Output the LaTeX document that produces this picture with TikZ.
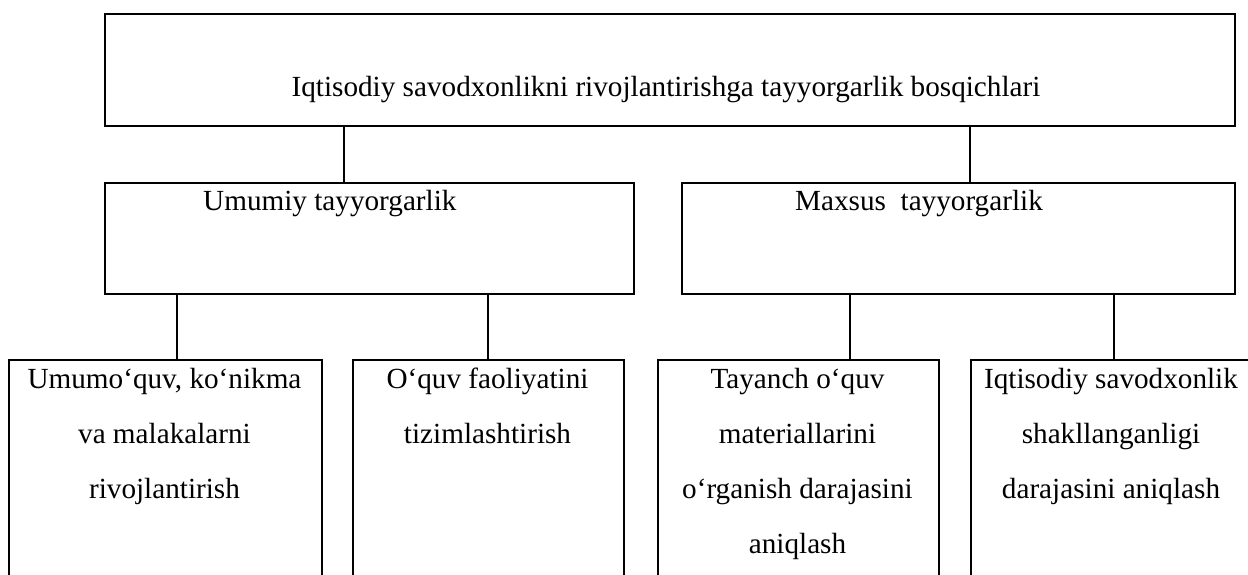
\documentclass[tikz,border=0pt]{standalone}
\usepackage{fontspec}
\setmainfont{Liberation Serif}
\begin{document}
\begin{tikzpicture}[x=1pt,y=-1pt,
  box/.style={draw=black, line width=1.6pt, rectangle, inner sep=0pt, anchor=north west},
  lbl/.style={inner sep=0pt, font=\fontsize{29.2}{55}\selectfont},
  conn/.style={draw=black, line width=1.6pt}]
\clip (0,0) rectangle (1248,575);
\fill[white] (0,0) rectangle (1248,575);
% boxes
\node[box, minimum width=1130pt, minimum height=112pt] (top) at (104,13) {};
\node[box, minimum width=529pt, minimum height=111pt] (gen) at (104,182) {};
\node[box, minimum width=553pt, minimum height=111pt] (spec) at (681,182) {};
\node[box, minimum width=313pt, minimum height=260pt] (a) at (8,359) {};
\node[box, minimum width=271pt, minimum height=260pt] (b) at (352,359) {};
\node[box, minimum width=281pt, minimum height=260pt] (c) at (657,359) {};
\node[box, minimum width=292pt, minimum height=260pt] (d) at (970,359) {};
% texts
\node[lbl, anchor=base] (ttop) at (666,97) {Iqtisodiy savodxonlikni rivojlantirishga tayyorgarlik bosqichlari};
\node[lbl, anchor=base west] (tgen) at (203,210) {Umumiy tayyorgarlik};
\node[lbl, anchor=base west] (tspec) at (795,210) {Maxsus~~tayyorgarlik};
\node[lbl, anchor=base] (ta) at (164.5,388) {\parbox[t]{313pt}{\centering\fontsize{29.2}{55}\selectfont Umumo‘quv, ko‘nikma\\va malakalarni\\rivojlantirish}};
\node[lbl, anchor=base] (tb) at (487.5,388) {\parbox[t]{271pt}{\centering\fontsize{29.2}{55}\selectfont O‘quv faoliyatini\\tizimlashtirish}};
\node[lbl, anchor=base] (tc) at (797.5,388) {\parbox[t]{281pt}{\centering\fontsize{29.2}{55}\selectfont Tayanch o‘quv\\materiallarini\\o‘rganish darajasini\\aniqlash}};
\node[lbl, anchor=base] (td) at (1111,388) {\parbox[t]{292pt}{\centering\fontsize{29.2}{55}\selectfont Iqtisodiy savodxonlik\\shakllanganligi\\darajasini aniqlash}};
% connector columns
\coordinate (x1) at (344,0);
\coordinate (x2) at (970,0);
\coordinate (x3) at (177,0);
\coordinate (x4) at (488,0);
\coordinate (x5) at (850,0);
\coordinate (x6) at (1114,0);
\draw[conn] (top.south -| x1) -- (gen.north -| x1);
\draw[conn] (top.south -| x2) -- (spec.north -| x2);
\draw[conn] (gen.south -| x3) -- (a.north -| x3);
\draw[conn] (gen.south -| x4) -- (b.north -| x4);
\draw[conn] (spec.south -| x5) -- (c.north -| x5);
\draw[conn] (spec.south -| x6) -- (d.north -| x6);
\end{tikzpicture}
\end{document}
